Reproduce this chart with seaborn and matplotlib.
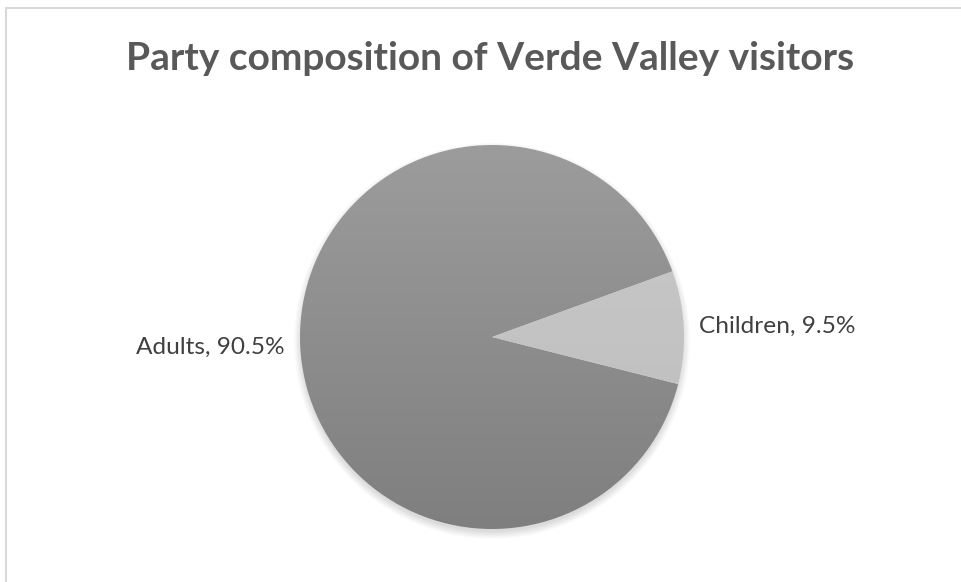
import numpy as np
import matplotlib
matplotlib.use("Agg")
import matplotlib.pyplot as plt
import seaborn as sns
from matplotlib.patches import Rectangle, Circle

# Data
CATEGORIES = ["Adults", "Children"]
SHARES = [90.5, 9.5]
TITLE = "Party composition of Verde Valley visitors"

# Gradient colours (top, bottom) per slice
SLICE_GRADIENTS = [("#9c9c9c", "#7f7f7f"), ("#cacaca", "#bcbcbc")]


def draw_chart():
    sns.set_style("white")
    plt.rcParams['font.family'] = ['Lato', 'DejaVu Sans']

    W, H, DPI = 961, 582, 100
    fig = plt.figure(figsize=(W / DPI, H / DPI), dpi=DPI)
    fig.patch.set_facecolor("white")

    # chart area border (runs off the right / bottom edges)
    fig.patches.append(Rectangle((5.5 / W, -0.1), 1.2, 1.1 - 8.0 / H,
                                 transform=fig.transFigure, fill=False,
                                 edgecolor="#d9d9d9", linewidth=1.5))

    fig.text(490 / W, 1 - 58 / H, TITLE, ha="center", va="center",
             fontsize=28, fontweight="bold", color="#595959")

    # pie axes: centre (492, 337) px, radius 192 px
    cx, cy, r = 492, 337, 192
    ax = fig.add_axes([(cx - r) / W, 1 - (cy + r) / H, 2 * r / W, 2 * r / H])
    ax.set_xlim(-1, 1)
    ax.set_ylim(-1, 1)
    ax.set_aspect("equal")
    ax.axis("off")

    # soft shadow
    for k in range(6):
        ax.add_patch(Circle((0, -0.02), 0.995 + 0.007 * k, facecolor="#000000",
                            alpha=0.025, edgecolor="none", zorder=0,
                            clip_on=False))

    labels = [f"{c}, {v}%" for c, v in zip(CATEGORIES, SHARES)]
    wedges, texts = ax.pie(SHARES, labels=labels, startangle=20,
                           counterclock=True, labeldistance=1.08,
                           radius=1.0, frame=False,
                           textprops=dict(fontsize=17.6, color="#404040"))
    ax.set_xlim(-1, 1)
    ax.set_ylim(-1, 1)

    grad = np.linspace(0, 1, 256).reshape(-1, 1)
    for wedge, (top, bot) in zip(wedges, SLICE_GRADIENTS):
        t = np.array(matplotlib.colors.to_rgb(top))
        b = np.array(matplotlib.colors.to_rgb(bot))
        img = t[None, None, :] * (1 - grad[:, :, None]) + b[None, None, :] * grad[:, :, None]
        im = ax.imshow(img, extent=[-1, 1, -1, 1], origin="upper",
                       zorder=2, interpolation="bilinear")
        im.set_clip_path(wedge)
        wedge.set_facecolor("none")
        wedge.set_edgecolor("none")
    ax.set_xlim(-1, 1)
    ax.set_ylim(-1, 1)

    fig.savefig("out.png", dpi=DPI, facecolor="white")
    plt.close(fig)


if __name__ == "__main__":
    draw_chart()
